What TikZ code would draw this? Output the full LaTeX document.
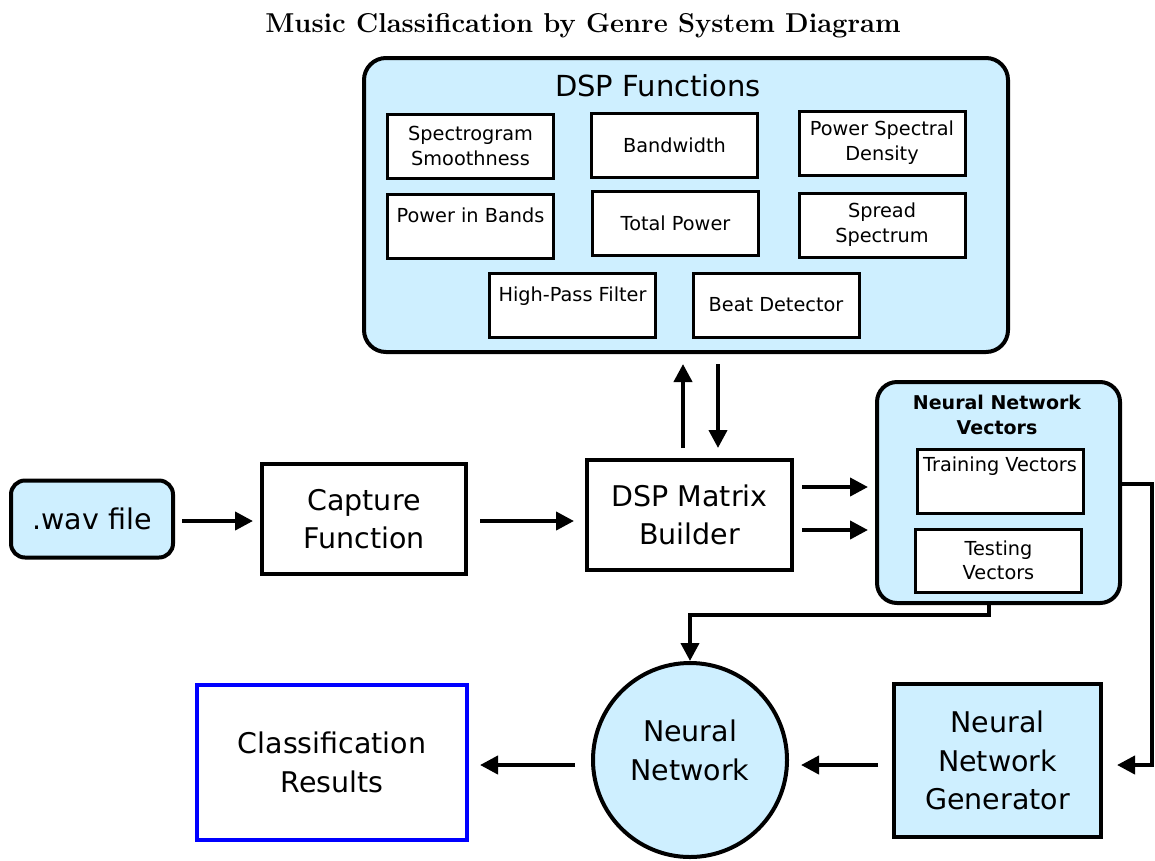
\documentclass[tikz,border=0pt]{standalone}
\usepackage{fontspec}
\newfontfamily\dv{DejaVu Sans}
\usetikzlibrary{arrows.meta,shapes.geometric}
\definecolor{lblue}{RGB}{206,239,255}
\definecolor{rblue}{RGB}{0,0,255}
\begin{document}
\begin{tikzpicture}[x=1pt,y=-1pt,
  every node/.style={font=\dv, align=center, inner sep=0pt},
  fbox/.style={draw, line width=4pt},
  dspbox/.style={draw, line width=3pt, fill=white, minimum width=166pt, minimum height=64pt, font=\dv\fontsize{19.3}{25}\selectfont},
  big/.style={font=\dv\fontsize{28.5}{38.5}\selectfont},
  conn/.style={line width=4pt, -{Triangle[length=18pt,width=18pt]}},
  plainline/.style={line width=4pt}
]
\useasboundingbox (0,0) rectangle (1155,860);

% title
\node[font=\rmfamily\bfseries\fontsize{27.3}{30}\selectfont, anchor=base] (title) at (583,32) {Music Classification by Genre System Diagram};

% main chain
\node[fbox, fill=lblue, rounded corners=14pt, minimum width=162pt, minimum height=77pt, big] (wav) at (92,519) {.wav file};
\node[fbox, minimum width=204pt, minimum height=110pt, big] (cap) at (364,519) {Capture\\Function};
\node[fbox, minimum width=205pt, minimum height=110pt, big] (dspm) at (689.5,515) {DSP Matrix\\Builder};

% DSP functions container
\node[fbox, fill=lblue, rounded corners=22pt, minimum width=644pt, minimum height=294pt] (dspf) at (686,205) {};
\node[font=\dv\fontsize{29}{34}\selectfont] (dspft) at (658,86) {DSP Functions};
\node[dspbox] (s1) at (470.5,146) {Spectrogram\\Smoothness};
\node[dspbox] (s2) at (674.5,145) {Bandwidth};
\node[dspbox] (s3) at (882,143) {Power Spectral\\Density};
\node[dspbox] (s4) at (470.5,226) {Power in Bands\\[-2.5pt]\mbox{}};
\node[dspbox] (s5) at (675.5,223.5) {Total Power};
\node[dspbox] (s6) at (882,225) {Spread\\Spectrum};
\node[dspbox] (s7) at (572.5,305.5) {High-Pass Filter\\[-2.5pt]\mbox{}};
\node[dspbox] (s8) at (776,305) {Beat Detector};

% Neural network vectors
\node[fbox, fill=lblue, rounded corners=20pt, minimum width=243pt, minimum height=221pt] (nnv) at (998.5,492.5) {};
\node[font=\dv\bfseries\fontsize{19}{25}\selectfont] (nnvt) at (997,415) {Neural Network\\Vectors};
\node[dspbox, font=\dv\fontsize{19.3}{25}\selectfont] (train) at (1000,481) {Training Vectors\\[9pt]\mbox{}};
\node[dspbox, font=\dv\fontsize{19.3}{24}\selectfont, minimum height=63pt] (test) at (998.5,560.5) {Testing\\Vectors};

% bottom row
\node[fbox, fill=lblue, minimum width=207pt, minimum height=153pt, big] (nng) at (997.5,760.5) {Neural\\Network\\Generator};
\node[draw, circle, line width=4pt, fill=lblue, minimum size=194pt, big] (nn) at (690,760) {Neural\\Network\\[-19pt]\mbox{}};
\node[draw=rblue, line width=4pt, minimum width=270pt, minimum height=155pt, big] (cls) at (332,762.5) {Classification\\Results};

% connectors
\coordinate (a1) at ([yshift=-2pt]wav.east);
\draw[conn, shorten <=7pt, shorten >=7pt] (a1) -- (a1 -| cap.west);
\coordinate (a2) at ([yshift=-2pt]cap.east);
\draw[conn, shorten <=12pt, shorten >=11pt] (a2) -- (a2 -| dspm.west);

\coordinate (u1) at ([xshift=-6.5pt]dspm.north);
\coordinate (u2) at ([xshift=28.5pt]dspm.north);
\draw[conn, shorten <=10pt, shorten >=10pt] (u1) -- (u1 |- dspf.south);
\draw[conn, shorten <=10pt, shorten >=10pt] (u2 |- dspf.south) -- (u2);

\coordinate (r1) at ([yshift=28pt]dspm.east);
\coordinate (r2) at ([yshift=-15pt]dspm.east);
\draw[conn, shorten <=8pt, shorten >=7pt] (r1) -- (r1 -| nnv.west);
\draw[conn, shorten <=8pt, shorten >=7pt] (r2) -- (r2 -| nnv.west);

\coordinate (rc) at (1152,765);
\draw[conn, shorten >=14pt] ([yshift=9pt]nnv.east) -| (rc) -- (rc -| nng.east);

\draw[conn] ([xshift=-10pt]nnv.south) -- ++(0,10) -| (nn.north);

\coordinate (y765) at (0,765);
\draw[conn, shorten <=14pt, shorten >=12pt] (nng.west |- y765) -- (nn.east |- y765);
\draw[conn, shorten <=16pt, shorten >=11pt] (nn.west |- y765) -- (cls.east |- y765);
\end{tikzpicture}
\end{document}
